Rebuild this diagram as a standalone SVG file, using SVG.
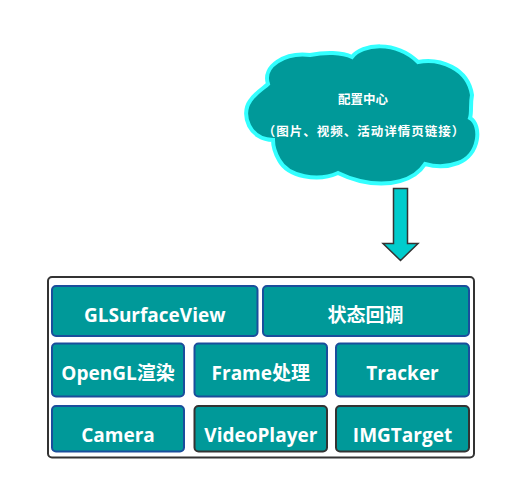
<svg xmlns="http://www.w3.org/2000/svg" width="513" height="490" viewBox="0 0 513 490">
<style>
.box{fill:#009999;stroke:#1A4E9C;stroke-width:2}
.dk{stroke:#333333}
.t{font-family:"Open Sans","Noto Sans CJK SC",sans-serif;font-weight:bold;font-size:19px;fill:#ffffff;text-anchor:middle}
.c{font-family:"Noto Sans CJK SC",sans-serif;font-weight:bold;font-size:12.5px;fill:#ffffff;text-anchor:middle}
</style>
<rect width="513" height="490" fill="#ffffff"/>
<g id="cloud">
<path d="M 273,140 C 250,140 240,115 250,101 C 256,92 264,88 268,84 C 262,66 285,52 310,55 C 325,52 342,52 352,57 C 362,44 395,40 418,62 C 440,58 468,68 472,95 C 470,105 472,112 470,118 C 482,125 480,155 458,163 C 445,168 432,166 425,164 C 415,180 390,188 360,181 C 348,178 342,175 338,173 C 318,182 288,177 279,160 C 275,153 273,147 273,140 Z" fill="#009999" stroke="#33FFFF" stroke-width="4"/>
<text class="c" x="363" y="104">配置中心</text>
<text class="c" x="364" y="136" letter-spacing="1">（图片、视频、活动详情页链接）</text>
</g>
<g id="connectors">
<path d="M 393.5,188.5 L 407.5,188.5 L 407.5,243.5 L 418,243.5 L 400.5,260.5 L 383,243.5 L 393.5,243.5 Z" fill="#00CCCC" stroke="#333333" stroke-width="1.5" stroke-linejoin="miter"/>
</g>
<g id="container">
<rect x="48" y="277" width="426" height="180.5" rx="4" fill="#ffffff" stroke="#333333" stroke-width="2"/>
</g>
<g id="glsurfaceview"><rect class="box" x="52" y="286" width="205.5" height="50" rx="4"/><text class="t" x="154.7" y="321.7">GLSurfaceView</text></g>
<g id="callback"><rect class="box" x="263" y="286" width="206" height="50" rx="4"/><text class="t" x="365.5" y="321.7">状态回调</text></g>
<g id="opengl"><rect class="box" x="52" y="343.5" width="132" height="53" rx="4"/><text class="t" x="118" y="380">OpenGL渲染</text></g>
<g id="frame"><rect class="box" x="194.5" y="343.5" width="132.5" height="53" rx="4"/><text class="t" x="260.8" y="380">Frame处理</text></g>
<g id="tracker"><rect class="box" x="336" y="343.5" width="133" height="53" rx="4"/><text class="t" x="402.5" y="380">Tracker</text></g>
<g id="camera"><rect class="box" x="52" y="406" width="132" height="45.5" rx="4"/><text class="t" x="118" y="441.7">Camera</text></g>
<g id="videoplayer"><rect class="box dk" x="194.5" y="406" width="132.5" height="45.5" rx="4"/><text class="t" x="260.8" y="441.7">VideoPlayer</text></g>
<g id="imgtarget"><rect class="box dk" x="336" y="406" width="133" height="45.5" rx="4"/><text class="t" x="402.5" y="441.7">IMGTarget</text></g>
</svg>
